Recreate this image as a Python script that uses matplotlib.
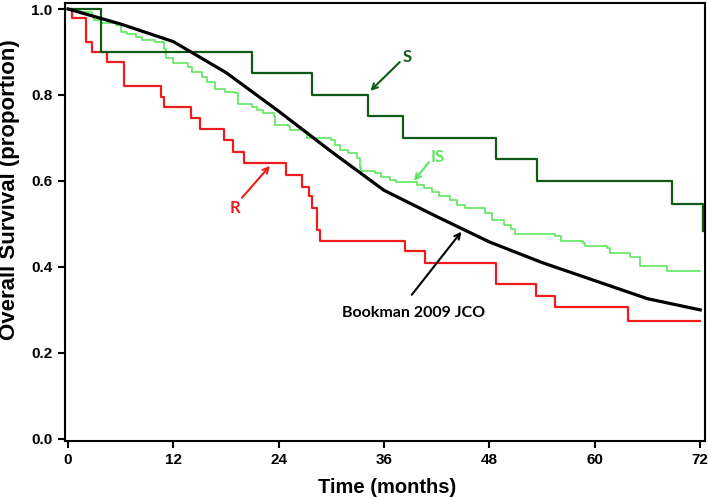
import numpy as np
import matplotlib
matplotlib.use('Agg')
import matplotlib.pyplot as plt

# step curves (time in months, survival proportion)
S_t = [0, 3.8, 21.0, 27.8, 34.2, 38.2, 48.7, 53.4, 68.8, 72.3]
S_v = [1.0, 0.90, 0.852, 0.80, 0.75, 0.70, 0.65, 0.60, 0.547, 0.484]

R_t = [0, 0.5, 2.0, 2.7, 4.4, 6.4, 10.6, 10.9, 14.0, 15.0, 17.8, 18.8, 20.0,
       24.8, 26.6, 27.4, 27.8, 28.3, 28.7, 38.4, 40.7, 48.7, 53.3, 55.5, 63.8, 72.0]
R_v = [1.0, 0.979, 0.923, 0.90, 0.877, 0.821, 0.795, 0.771, 0.746, 0.72, 0.695, 0.667, 0.641,
       0.614, 0.587, 0.564, 0.536, 0.487, 0.461, 0.436, 0.41, 0.36, 0.333, 0.307, 0.275, 0.275]

IS_t = [0, 1.4, 2.7, 3.0, 3.8, 5.5, 6.0, 6.7, 7.7, 8.4, 9.9, 10.9, 11.2, 12.0, 13.7, 14.1,
        15.2, 15.8, 16.7, 17.9, 19.0, 19.4, 20.9, 21.5, 22.2, 23.4, 23.6, 25.1, 25.3, 27.0,
        27.2, 30.0, 30.4, 31.0, 31.9, 32.9, 33.3, 33.4, 35.0, 35.7, 36.7, 37.4, 39.7, 40.5,
        41.4, 42.2, 43.5, 44.3, 45.2, 47.5, 48.3, 49.6, 50.5, 50.9, 55.5, 56.2, 58.7, 58.9,
        61.4, 61.7, 64.0, 65.2, 68.2, 72.0]
IS_v = [1.0, 0.993, 0.982, 0.975, 0.968, 0.963, 0.947, 0.943, 0.935, 0.929, 0.924, 0.908,
        0.885, 0.874, 0.866, 0.854, 0.842, 0.831, 0.815, 0.807, 0.804, 0.78, 0.772, 0.765,
        0.757, 0.75, 0.73, 0.727, 0.719, 0.715, 0.699, 0.695, 0.684, 0.672, 0.665, 0.653,
        0.63, 0.622, 0.618, 0.61, 0.602, 0.597, 0.591, 0.583, 0.575, 0.564, 0.556, 0.544,
        0.537, 0.525, 0.509, 0.498, 0.488, 0.476, 0.471, 0.461, 0.455, 0.449, 0.443, 0.433,
        0.422, 0.402, 0.391, 0.391]

# Bookman 2009 JCO reference curve
bk_t = [0, 6, 12, 18, 24, 30, 36, 42, 48, 54, 60, 66, 72]
bk_v = [1.0, 0.965, 0.924, 0.852, 0.762, 0.668, 0.578, 0.517, 0.458, 0.41, 0.368, 0.326, 0.30]

x_ticks = [0, 12, 24, 36, 48, 60, 72]
y_ticks = [0.0, 0.2, 0.4, 0.6, 0.8, 1.0]

dark_green = '#0f5a14'
light_green = '#5ce65c'
red = '#ee1c1c'

fig = plt.figure(figsize=(7.08, 4.98), dpi=100)
ax = fig.add_axes([0.0918, 0.1145, 0.904, 0.8795])

ax.plot(bk_t, bk_v, color='black', lw=2.3, zorder=3)
ax.plot(IS_t, IS_v, color=light_green, lw=1.2, drawstyle='steps-post', zorder=2)
ax.plot(R_t, R_v, color=red, lw=1.6, drawstyle='steps-post', zorder=2)
ax.plot(S_t, S_v, color=dark_green, lw=1.6, drawstyle='steps-post', zorder=2)

ax.set_xlim(-0.35, 72.55)
ax.set_ylim(-0.005, 1.014)
ax.set_xticks(x_ticks)
ax.set_yticks(y_ticks)
ax.set_yticklabels(['%.1f' % v for v in y_ticks])

for lab in ax.get_xticklabels() + ax.get_yticklabels():
    lab.set_fontfamily('Liberation Sans')
    lab.set_fontweight('bold')
    lab.set_fontsize(11)
ax.tick_params(length=5, width=1.5, pad=4, direction='out')
for sp in ax.spines.values():
    sp.set_linewidth(1.5)

ax.set_xlabel('Time (months)', fontfamily='Liberation Sans', fontweight='bold',
              fontsize=14.5)
ax.xaxis.set_label_coords(0.504, -0.085)
ax.set_ylabel('Overall Survival (proportion)', fontfamily='Liberation Sans',
              fontweight='bold', fontsize=16)
ax.yaxis.set_label_coords(-0.070, 0.575)

# labels with arrows
lbl = dict(fontfamily='Lato', fontweight='bold', fontsize=12)
ax.annotate('', xy=(34.2, 0.805), xytext=(38.0, 0.881),
            arrowprops=dict(arrowstyle='->', color=dark_green, lw=1.5))
ax.text(38.1, 0.888, 'S', color=dark_green, ha='left', va='center', **lbl)

ax.annotate('', xy=(39.2, 0.595), xytext=(41.3, 0.649),
            arrowprops=dict(arrowstyle='->', color=light_green, lw=1.5))
ax.text(41.3, 0.655, 'IS', color=light_green, ha='left', va='center', **lbl)

ax.annotate('', xy=(23.2, 0.640), xytext=(19.6, 0.556),
            arrowprops=dict(arrowstyle='->', color=red, lw=1.5))
ax.text(19.0, 0.537, 'R', color=red, ha='center', va='center', **lbl)

ax.annotate('', xy=(45.0, 0.487), xytext=(38.95, 0.330),
            arrowprops=dict(arrowstyle='->', color='black', lw=1.5))
ax.text(39.3, 0.293, 'Bookman 2009 JCO', color='black', ha='center', va='center',
        fontfamily='Lato', fontweight='bold', fontsize=11.5)

fig.savefig('out.png', dpi=100)
